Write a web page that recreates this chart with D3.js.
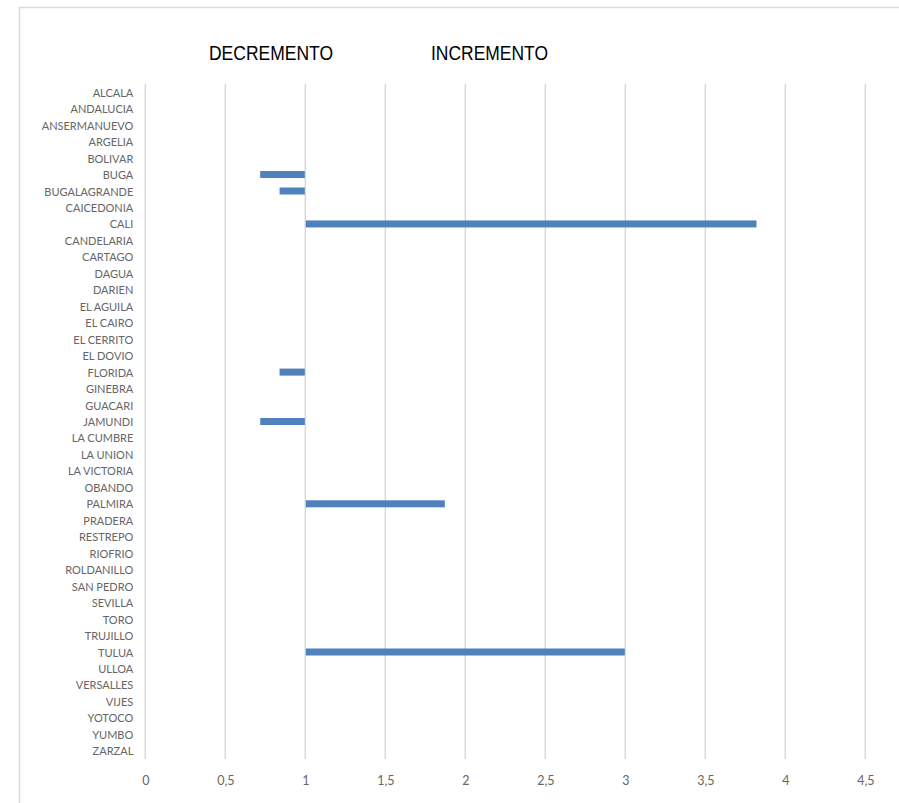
<!DOCTYPE html>
<html><head><meta charset="utf-8">
<script src="https://cdn.jsdelivr.net/npm/d3@7"></script>
<style>html,body{margin:0;padding:0;background:#fff;}svg{display:block;}</style>
</head><body>
<svg id="chart" width="899" height="803"></svg>
<script>
const categories = ["ALCALA","ANDALUCIA","ANSERMANUEVO","ARGELIA","BOLIVAR","BUGA","BUGALAGRANDE","CAICEDONIA","CALI","CANDELARIA","CARTAGO","DAGUA","DARIEN","EL AGUILA","EL CAIRO","EL CERRITO","EL DOVIO","FLORIDA","GINEBRA","GUACARI","JAMUNDI","LA CUMBRE","LA UNION","LA VICTORIA","OBANDO","PALMIRA","PRADERA","RESTREPO","RIOFRIO","ROLDANILLO","SAN PEDRO","SEVILLA","TORO","TRUJILLO","TULUA","ULLOA","VERSALLES","VIJES","YOTOCO","YUMBO","ZARZAL"];
// ratio value per municipality (bars drawn from baseline 1 to value); null = no bar
const values = [null,null,null,null,null,0.715,0.836,null,3.823,null,null,null,null,null,null,null,null,0.836,null,null,0.715,null,null,null,null,1.875,null,null,null,null,null,null,null,null,3.0,null,null,null,null,null,null];
const baseline = 1;
const xTicks = [0,0.5,1,1.5,2,2.5,3,3.5,4,4.5];
const tickLabels = ["0","0,5","1","1,5","2","2,5","3","3,5","4","4,5"];
const headers = ["DECREMENTO","INCREMENTO"];

const svg = d3.select("#chart");
const pLeft = 145.3, pRight = 865.3, pTop = 84, pBottom = 759;

// chart border
svg.append("rect").attr("x",19.5).attr("y",7.5).attr("width",900).attr("height",820)
  .attr("fill","none").attr("stroke","#d9d9d9").attr("stroke-width",1.5);

const x = d3.scaleLinear().domain([0,4.5]).range([pLeft,pRight]);
const y = d3.scaleBand().domain(categories).range([pTop,pBottom]).paddingInner(0.575).paddingOuter(0.2875);

// gridlines
svg.append("g").selectAll("line").data(xTicks).join("line")
  .attr("x1",d=>x(d)).attr("x2",d=>x(d)).attr("y1",pTop).attr("y2",pBottom)
  .attr("stroke","#d9d9d9").attr("stroke-width",1.5);

// x axis labels
const xAxis = d3.axisBottom(x).tickValues(xTicks).tickFormat((d,i)=>tickLabels[i]).tickSize(0).tickPadding(0);
const gx = svg.append("g").attr("transform",`translate(0,${pBottom+17})`).call(xAxis);
gx.select(".domain").remove();
gx.selectAll("text").attr("font-family","Lato, 'Open Sans', sans-serif").attr("font-size",12.5).attr("fill","#666");

// y axis labels
const yAxis = d3.axisLeft(y).tickSize(0).tickPadding(12);
const gy = svg.append("g").attr("transform",`translate(${pLeft},1)`).call(yAxis);
gy.select(".domain").remove();
gy.selectAll("text").attr("font-family","Lato, 'Open Sans', sans-serif").attr("font-size",11).attr("fill","#666");

// bars
const rows = categories.map((c,i)=>({c, v: values[i]})).filter(d=>d.v!==null);
svg.append("g").selectAll("rect").data(rows).join("rect")
  .attr("x",d=>x(Math.min(d.v,baseline))+0.5)
  .attr("width",d=>Math.abs(x(d.v)-x(baseline))-1)
  .attr("y",d=>y(d.c)+y.bandwidth()/2-3.5)
  .attr("height",7)
  .attr("fill","#4f81bd");

// headers
const hx = [[209,124],[431,117]];
svg.append("g").selectAll("text").data(headers).join("text")
  .attr("x",(d,i)=>hx[i][0]).attr("y",60)
  .attr("textLength",(d,i)=>hx[i][1]).attr("lengthAdjust","spacingAndGlyphs")
  .attr("font-family","'Liberation Sans Narrow','Arial Narrow','Liberation Sans',sans-serif")
  .attr("font-size",20).attr("fill","#000").text(d=>d);
</script>
</body></html>
